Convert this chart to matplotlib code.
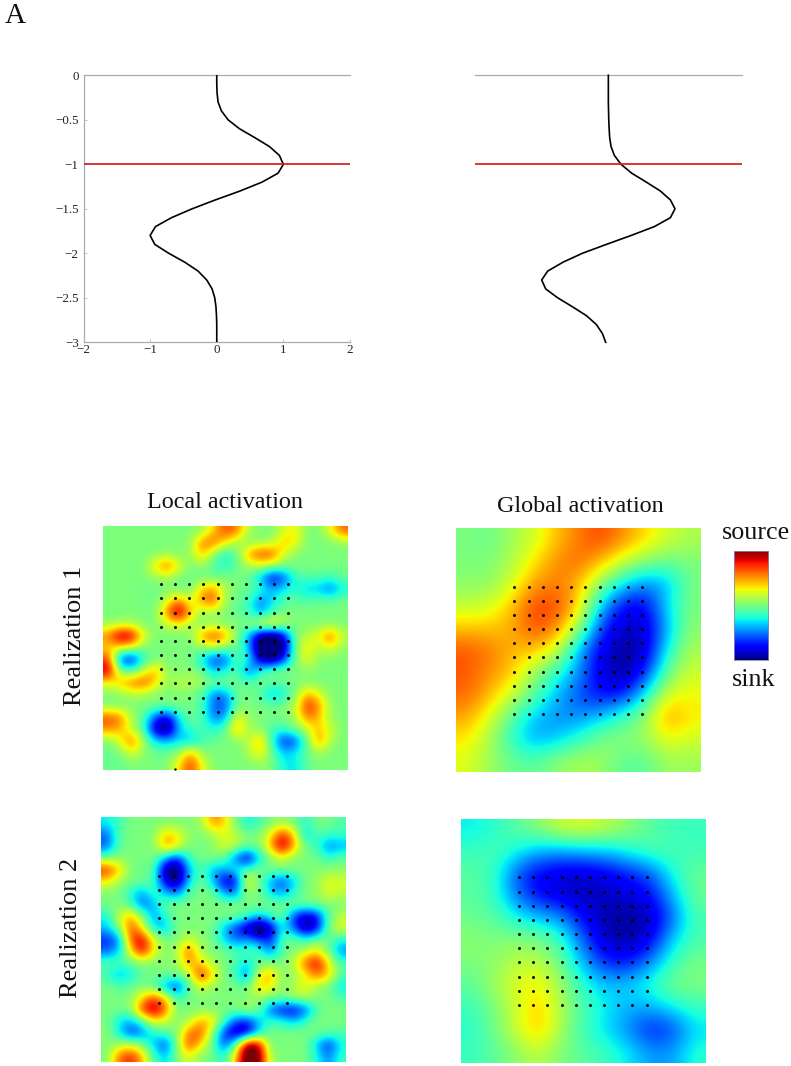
import numpy as np
import matplotlib
matplotlib.use("Agg")
import matplotlib.pyplot as plt

plt.rcParams['font.family'] = ['Liberation Serif', 'DejaVu Serif']

W, H = 791, 1066

depth = [0, -.1, -.2, -.3, -.4, -.5, -.6, -.7, -.8, -.9, -1, -1.1, -1.2, -1.3, -1.4, -1.5,
         -1.6, -1.7, -1.8, -1.9, -2, -2.1, -2.2, -2.3, -2.4, -2.5, -2.6, -2.7, -2.8, -2.9, -3]
curve_local = [0, 0, .005, .02, .07, .17, .34, .57, .79, .94, 1, .92, .68, .35, -.02, -.37,
               -.68, -.92, -1, -.93, -.72, -.48, -.28, -.15, -.07, -.03, -.012, -.004, 0, 0, 0]
curve_global = [0, 0, 0, 0, .003, .006, .012, .02, .04, .09, .19, .35, .57, .78, .93, 1,
                .93, .69, .34, -.03, -.39, -.68, -.91, -1, -.94, -.76, -.54, -.33, -.18, -.09, -.04]
red_depth = -1
x_ticks = [-2, -1, 0, 1, 2]
y_ticks = [0, -.5, -1, -1.5, -2, -2.5, -3]
x_labels = ['\u22122', '\u22121', '0', '1', '2']
y_labels = ['0', '\u22120.5', '\u22121', '\u22121.5', '\u22122', '\u22122.5', '\u22123']

local_1 = [
 [50,50,50,50,50,50,50,50,52,64,76,72,54,50,50,58,62,50,50,60,74],
 [50,50,50,50,50,50,50,52,72,74,62,54,50,52,54,66,62,50,50,50,52],
 [50,50,50,50,50,52,50,52,68,50,40,48,70,78,76,58,50,50,50,50,50],
 [50,50,50,50,64,75,60,50,52,46,42,48,54,56,54,50,50,50,50,50,50],
 [50,50,50,50,52,54,50,48,48,48,50,50,48,36,18,26,44,46,46,44,48],
 [50,50,50,50,48,50,48,50,66,70,54,50,48,44,34,40,42,36,36,28,40],
 [50,50,50,50,48,58,72,56,70,76,52,48,44,30,38,46,48,46,48,48,50],
 [50,50,50,50,50,72,90,66,52,54,50,48,44,32,44,50,50,50,50,50,50],
 [52,54,54,50,50,56,60,54,50,52,50,50,52,62,66,56,50,50,50,50,50],
 [72,90,86,60,50,50,50,50,70,78,70,50,34,10,5,18,50,56,60,76,56],
 [62,62,58,50,50,50,50,50,52,56,50,48,36,4,0,10,50,64,54,60,52],
 [78,24,20,42,50,50,50,50,38,24,26,48,42,14,10,24,50,60,52,50,50],
 [86,50,44,58,68,52,50,52,48,36,42,46,28,42,50,50,50,52,50,50,50],
 [60,66,74,76,64,52,56,56,54,50,50,50,46,50,48,48,50,50,50,50,50],
 [50,52,54,54,50,50,50,50,46,30,32,48,50,46,34,40,50,68,60,50,50],
 [50,50,50,50,50,50,50,50,46,28,26,50,50,50,48,50,56,80,70,52,50],
 [76,72,54,46,26,16,40,48,46,30,34,62,52,50,50,50,54,72,66,52,50],
 [70,66,56,44,14,6,36,44,46,42,46,70,52,52,44,44,50,56,66,58,50],
 [50,60,74,54,38,36,38,34,44,48,50,50,56,68,42,22,26,48,72,54,50],
 [48,50,60,52,48,48,52,68,52,50,50,50,54,64,48,36,40,48,54,50,50],
 [48,48,50,50,50,50,62,78,60,50,50,50,50,52,50,40,38,48,50,50,50],
]
global_1 = [
 [50,48,54,60,70,78,84,76,68,60,56],
 [50,50,56,66,76,80,72,60,52,48,50],
 [52,52,60,74,78,72,52,35,26,30,50],
 [58,60,70,84,84,70,32,12,10,36,50],
 [70,70,72,84,78,55,18,6,6,30,52],
 [82,78,72,70,62,30,10,2,5,38,56],
 [82,76,70,55,40,28,8,0,14,48,60],
 [80,72,60,46,32,20,12,14,36,62,64],
 [74,62,46,32,26,26,32,42,52,76,66],
 [66,56,40,28,32,40,50,52,54,64,60],
 [62,54,48,46,52,56,54,46,46,54,54],
]
local_2 = [
 [40,44,50,50,50,50,50,50,52,70,66,50,40,44,50,52,50,42,50,50,46],
 [28,46,50,50,50,66,62,52,50,52,60,56,50,50,60,80,66,36,46,44,44],
 [28,46,50,50,50,70,64,50,50,50,60,56,50,50,66,88,70,48,44,30,34],
 [48,52,50,50,50,36,22,44,50,50,48,30,14,36,50,58,50,50,50,42,48],
 [80,66,50,48,48,12,6,34,46,36,34,42,46,50,50,50,50,50,50,52,52],
 [62,54,50,50,46,18,8,36,50,38,18,16,64,50,34,26,36,50,52,60,58],
 [50,50,42,32,46,36,30,46,50,50,34,30,52,50,38,32,42,50,52,60,56],
 [50,50,46,28,34,50,50,50,50,50,50,50,50,50,50,50,50,50,50,50,50],
 [40,56,68,54,32,42,50,50,50,50,50,50,46,36,44,50,26,14,20,46,56],
 [36,50,76,62,38,34,50,50,50,50,36,26,12,2,12,42,28,10,18,50,60],
 [24,28,74,86,60,50,50,58,52,50,38,28,34,28,22,46,50,42,50,48,42],
 [28,36,60,84,62,50,54,76,54,50,50,46,46,46,30,46,50,56,62,50,30],
 [48,46,48,50,50,50,52,68,64,54,50,46,38,48,50,50,56,74,84,62,46],
 [44,34,38,48,50,50,50,54,80,66,50,44,28,58,70,50,52,60,74,66,46],
 [50,46,48,50,46,32,24,44,60,52,50,50,48,66,62,50,54,62,52,50,38],
 [50,50,50,62,76,66,42,50,50,50,50,50,50,52,50,50,54,56,50,50,46],
 [50,50,50,78,90,74,50,50,50,50,50,50,56,50,28,20,18,26,46,50,50],
 [50,40,34,44,60,58,50,54,68,66,46,28,22,36,44,42,36,44,50,50,50],
 [52,40,24,30,42,46,50,72,76,54,26,12,14,36,50,50,50,50,50,48,46],
 [50,54,58,50,36,24,50,78,64,50,26,44,92,88,48,50,50,50,36,22,40],
 [50,72,80,68,46,36,50,60,50,50,40,64,96,92,54,50,50,50,42,30,44],
]
global_2 = [
 [36,40,46,52,60,62,58,52,46,42,42],
 [42,44,38,30,28,30,32,38,44,44,42],
 [46,42,20,10,7,6,9,14,20,38,48],
 [46,42,24,12,8,4,6,8,12,30,48],
 [48,46,38,32,28,12,4,1,4,22,44],
 [52,50,52,50,42,22,5,3,10,34,44],
 [50,52,58,58,48,30,16,14,26,42,50],
 [46,54,62,66,54,40,32,34,40,50,50],
 [42,50,60,70,56,44,36,30,30,36,42],
 [40,48,60,72,54,42,34,26,14,18,34],
 [42,46,52,58,50,46,42,36,28,28,40],
]
electrodes = [.239, .297, .355, .413, .471, .529, .587, .645, .703, .761]
stray_dot = (.297, .994)
bar_low, bar_high = 0, 100


def px_axes(fig, l, t, r, b):
    return fig.add_axes([l / W, 1 - b / H, (r - l) / W, (b - t) / H])


fig = plt.figure(figsize=(W / 100, H / 100), dpi=100)
GRAY = '#aaaaaa'
RED = '#d01515'

# line panels
ax = px_axes(fig, 83.5, 75.3, 350, 342.3)
ax.plot(curve_local, depth, color='k', lw=1.2, zorder=3)
ax.axhline(red_depth, color=RED, lw=1.2, zorder=4)
ax.set_xlim(-2, 2)
ax.set_ylim(-3, 0)
ax.spines['right'].set_visible(False)
for s in ('top', 'left', 'bottom'):
    ax.spines[s].set_color(GRAY)
    ax.spines[s].set_linewidth(0.9)
ax.set_xticks(x_ticks, x_labels)
ax.set_yticks(y_ticks, y_labels)
ax.tick_params(direction='in', length=2, width=0.5, color=GRAY, labelsize=9.4, labelcolor='#222222')
ax.tick_params(axis='y', pad=3.5)
ax.tick_params(axis='x', pad=1.5)

ax = px_axes(fig, 475, 75.3, 741.7, 342.3)
ax.plot(curve_global, depth, color='k', lw=1.2, zorder=3, clip_on=False)
ax.axhline(red_depth, color=RED, lw=1.2, zorder=4)
ax.set_xlim(-2, 2)
ax.set_ylim(-3, 0)
for s in ('right', 'left', 'bottom'):
    ax.spines[s].set_visible(False)
ax.spines['top'].set_color(GRAY)
ax.spines['top'].set_linewidth(0.9)
ax.set_xticks([])
ax.set_yticks([])

# maps: (grid, pixel box, colour limits)
panels = [
    (local_1, (102.7, 526, 346.7, 770), (12, 88)),
    (global_1, (456, 528.3, 700.7, 772.3), (0, 100)),
    (local_2, (101, 817.3, 345.7, 1061.7), (12, 88)),
    (global_2, (460.7, 819, 705, 1063.3), (0, 100)),
]
for k, (grid, box, clim) in enumerate(panels):
    ax = px_axes(fig, *box)
    ax.imshow(np.array(grid, float), cmap='jet', vmin=clim[0], vmax=clim[1], extent=(0, 1, 1, 0),
              interpolation='bicubic', aspect='auto')
    xx, yy = np.meshgrid(electrodes, electrodes)
    ax.scatter(xx.ravel(), yy.ravel(), s=4.5, c='k', linewidths=0, zorder=3)
    if k == 0:
        ax.scatter([stray_dot[0]], [stray_dot[1]], s=3, c='k', linewidths=0, zorder=3)
    ax.set_xlim(0, 1)
    ax.set_ylim(1, 0)
    ax.axis('off')

# colour bar
ax = px_axes(fig, 733.7, 550.7, 768.3, 660)
ax.imshow(np.linspace(bar_high, bar_low, 110)[:, None], cmap='jet', vmin=bar_low, vmax=bar_high,
          aspect='auto', interpolation='nearest')
ax.set_xticks([])
ax.set_yticks([])
for s in ax.spines.values():
    s.set_color('#8a8aa8')
    s.set_linewidth(0.6)


def label(x, y, s, size, **kw):
    fig.text(x / W, 1 - y / H, s, fontsize=size, ha='center', va='center', color='#111111', **kw)


label(15, 16, 'A', 21)
label(225, 502, 'Local activation', 17.4)
label(580, 506, 'Global activation', 17.4)
label(756, 533, 'source', 18.8)
label(754, 680, 'sink', 18.8)
label(75, 636, 'Realization 1', 19, rotation=90)
label(71, 928, 'Realization 2', 19, rotation=90)

fig.savefig('out.png', dpi=100)
